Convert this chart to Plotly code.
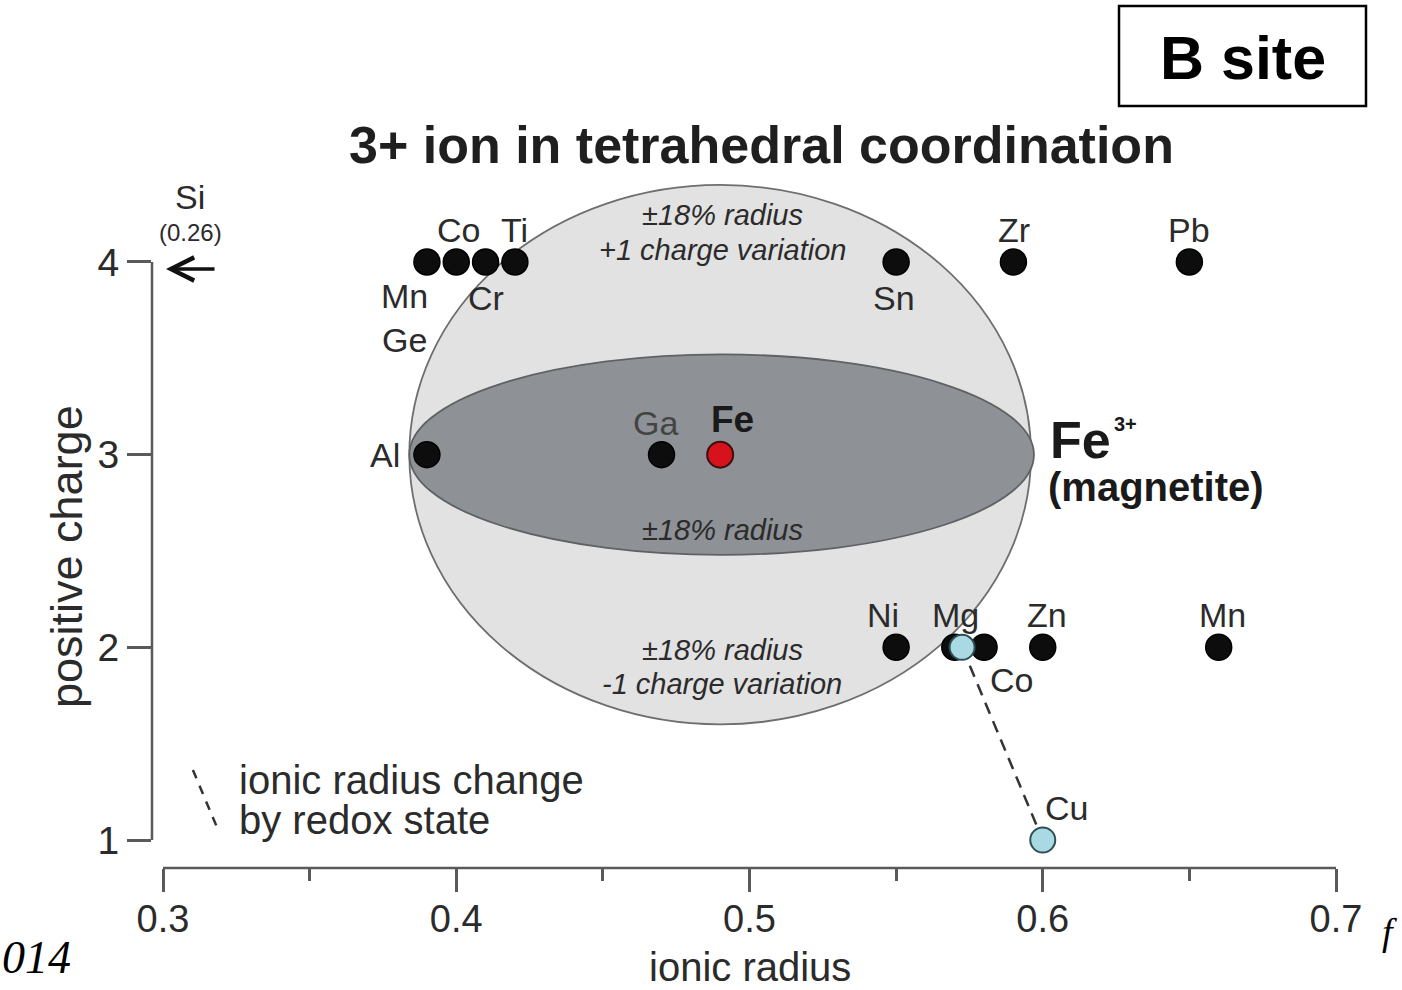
import plotly.graph_objects as go

# ---------------- data ----------------
black_labels = ["Mn<br>Ge", "Co", "Cr", "Ti", "Sn", "Zr", "Pb",
                "Al", "Ga",
                "Ni", "Mg", "Co", "Zn", "Mn"]
black_radius = [0.39, 0.40, 0.41, 0.42, 0.55, 0.59, 0.65,
                0.39, 0.47,
                0.55, 0.57, 0.58, 0.60, 0.66]
black_charge = [4, 4, 4, 4, 4, 4, 4,
                3, 3,
                2, 2, 2, 2, 2]

fe_label = ["Fe"]
fe_radius = [0.49]
fe_charge = [3]

cu_labels = ["", "Cu"]
cu_radius = [0.5725, 0.60]
cu_charge = [2, 1]

x_ticks = [0.3, 0.4, 0.5, 0.6, 0.7]
x_tick_text = ["0.3", "0.4", "0.5", "0.6", "0.7"]
x_minor = [0.35, 0.45, 0.55, 0.65]
y_ticks = [1, 2, 3, 4]
y_tick_text = ["1", "2", "3", "4"]

# ellipses (tolerance zones around Fe3+)
outer_x = (0.384, 0.596)
outer_y = (1.60, 4.40)
inner_x = (0.384, 0.597)
inner_y = (2.48, 3.52)

# ---------------- styling / layout ----------------
W, H = 1402, 990
PL, PR, PT, PB = 152, 1346, 150, 868
X_RANGE = [0.29625, 0.70341]
Y_RANGE = [0.8547, 4.581]
FONT = "Liberation Sans, Arial, Helvetica, sans-serif"
SERIF = "Liberation Serif, Times New Roman, serif"
TXT = "#2b2b2b"

# label offsets (px) relative to each point, parallel to black_labels
black_offsets = [(-22, -56), (2, 32), (0, -36), (0, 32), (-2, -36), (1, 32), (0, 32),
                 (-42, 0), (-6, 32),
                 (-13, 32), (1, 32), (27, -33), (4, 32), (4, 32)]
fe_offset = (12, 35)
cu_offsets = [(0, 0), (24, 32)]


def px(xp, yp):
    return (xp - PL) / (PR - PL), (PB - yp) / (PB - PT)


fig = go.Figure()

# dashed redox line
fig.add_trace(go.Scatter(x=cu_radius, y=cu_charge, mode="lines",
                         line=dict(color="#333333", width=2.5, dash="12px,8px"),
                         hoverinfo="skip", showlegend=False))

fig.add_trace(go.Scatter(x=black_radius, y=black_charge, mode="markers",
                         marker=dict(size=26, color="#0d0d0d",
                                     line=dict(color="#000000", width=1.5)),
                         showlegend=False))
fig.add_trace(go.Scatter(x=fe_radius, y=fe_charge, mode="markers",
                         marker=dict(size=26, color="#d8121c",
                                     line=dict(color="#3a1010", width=2)),
                         showlegend=False))
fig.add_trace(go.Scatter(x=cu_radius, y=cu_charge, mode="markers",
                         marker=dict(size=25, color="#a9d9e2",
                                     line=dict(color="#2f4f55", width=2)),
                         showlegend=False))

# legend dashed tick
lx0, ly0 = 0.3102, 1.363
lx1, ly1 = 0.3188, 1.052
fig.add_trace(go.Scatter(x=[lx0, lx1], y=[ly0, ly1], mode="lines",
                         line=dict(color="#333333", width=2.5, dash="9px,8px"),
                         hoverinfo="skip", showlegend=False))

shapes = [
    dict(type="circle", xref="x", yref="y", x0=outer_x[0], x1=outer_x[1],
         y0=outer_y[0], y1=outer_y[1], fillcolor="#e2e2e2",
         line=dict(color="#6e6e6e", width=1.8), layer="below"),
    dict(type="circle", xref="x", yref="y", x0=inner_x[0], x1=inner_x[1],
         y0=inner_y[0], y1=inner_y[1], fillcolor="#8e9196",
         line=dict(color="#5f6265", width=1.8), layer="below"),
    # detached axis lines
    dict(type="line", xref="x", yref="paper", x0=0.3, x1=0.7, y0=0, y1=0,
         line=dict(color="#5a5a5a", width=2.5)),
    dict(type="line", xref="paper", yref="y", x0=0, x1=0, y0=1, y1=4,
         line=dict(color="#5a5a5a", width=2.5)),
]
# B site box
bx0, by0 = px(1119, 106)
bx1, by1 = px(1366, 6)
shapes.append(dict(type="rect", xref="paper", yref="paper", x0=bx0, x1=bx1,
                   y0=by0, y1=by1, line=dict(color="#000000", width=2.5),
                   fillcolor="white"))

ann = []
for lab, xr, ch, (dx, dy) in zip(black_labels, black_radius, black_charge, black_offsets):
    col = "#444444" if lab == "Ga" else TXT
    ann.append(dict(x=xr, y=ch, xref="x", yref="y", text=lab, showarrow=False,
                    xshift=dx, yshift=dy, font=dict(family=FONT, size=34, color=col),
                    xanchor="center", yanchor="middle"))
for lab, xr, ch in zip(fe_label, fe_radius, fe_charge):
    ann.append(dict(x=xr, y=ch, xref="x", yref="y", text="<b>%s</b>" % lab,
                    showarrow=False, xshift=fe_offset[0], yshift=fe_offset[1],
                    font=dict(family=FONT, size=37, color="#1a1a1a"),
                    xanchor="center", yanchor="middle"))
for lab, xr, ch, (dx, dy) in zip(cu_labels, cu_radius, cu_charge, cu_offsets):
    if lab:
        ann.append(dict(x=xr, y=ch, xref="x", yref="y", text=lab, showarrow=False,
                        xshift=dx, yshift=dy, font=dict(family=FONT, size=34, color=TXT),
                        xanchor="center", yanchor="middle"))


def text_at(xp, yp, text, size, anchor="center", color=TXT, family=FONT, angle=0):
    xx, yy = px(xp, yp)
    ann.append(dict(x=xx, y=yy, xref="paper", yref="paper", text=text,
                    showarrow=False, xanchor=anchor, yanchor="middle",
                    textangle=angle, font=dict(family=family, size=size, color=color)))


text_at(761, 145, "<b>3+ ion in tetrahedral coordination</b>", 52, color="#1f1f1f")
text_at(1243, 58, "<b>B site</b>", 61, color="#000000")
text_at(722, 215, "<i>±18% radius</i>", 29)
text_at(722, 250, "<i>+1 charge variation</i>", 29)
text_at(722, 530, "<i>±18% radius</i>", 29)
text_at(722, 650, "<i>±18% radius</i>", 29)
text_at(722, 684, "<i>-1 charge variation</i>", 29)
text_at(1048, 440, "<b>Fe</b>", 52, anchor="left", color="#1a1a1a")
text_at(1112, 424, "<b>3+</b>", 20, anchor="left", color="#1a1a1a")
text_at(1046, 487, "<b>(magnetite)</b>", 40, anchor="left", color="#1a1a1a")
text_at(237, 780, "ionic radius change", 40, anchor="left")
text_at(237, 820, "by redox state", 40, anchor="left")
text_at(190, 197, "Si", 34)
text_at(190, 232, "(0.26)", 24)
text_at(750, 967, "ionic radius", 40)
text_at(66, 557, "positive charge", 45, angle=-90)
text_at(0, 958, "<i>014</i>", 46, anchor="left", color="#000000", family=SERIF)
text_at(1380, 932, "<i>f</i>", 38, anchor="left", color="#000000", family=SERIF)

# Si arrow (head at left, tail 50 px to the right)
ax0, ay0 = px(166, 269)
ann.append(dict(x=ax0, y=ay0, xref="paper", yref="paper",
                ax=50, ay=0, axref="pixel", ayref="pixel", text="", showarrow=True,
                arrowhead=5, arrowsize=1.3, arrowwidth=3.5, arrowcolor="#111111"))

fig.update_layout(
    width=W, height=H,
    margin=dict(l=PL, r=W - PR, t=PT, b=H - PB, pad=0),
    paper_bgcolor="white", plot_bgcolor="white",
    shapes=shapes, annotations=ann, showlegend=False,
    xaxis=dict(range=X_RANGE, tickmode="array", tickvals=x_ticks, ticktext=x_tick_text,
               ticks="outside", ticklen=23, tickwidth=2.5, tickcolor="#5a5a5a",
               showgrid=False, zeroline=False, showline=False, ticklabelstandoff=-6,
               tickfont=dict(family=FONT, size=38, color=TXT),
               minor=dict(tickmode="array", tickvals=x_minor, ticks="outside",
                          ticklen=12, tickwidth=2.5, tickcolor="#5a5a5a", showgrid=False)),
    yaxis=dict(range=Y_RANGE, tickmode="array", tickvals=y_ticks, ticktext=y_tick_text,
               ticks="outside", ticklen=24, tickwidth=2.5, tickcolor="#5a5a5a",
               showgrid=False, zeroline=False, showline=False,
               tickfont=dict(family=FONT, size=39, color=TXT)),
)

fig.write_html("out.html")
